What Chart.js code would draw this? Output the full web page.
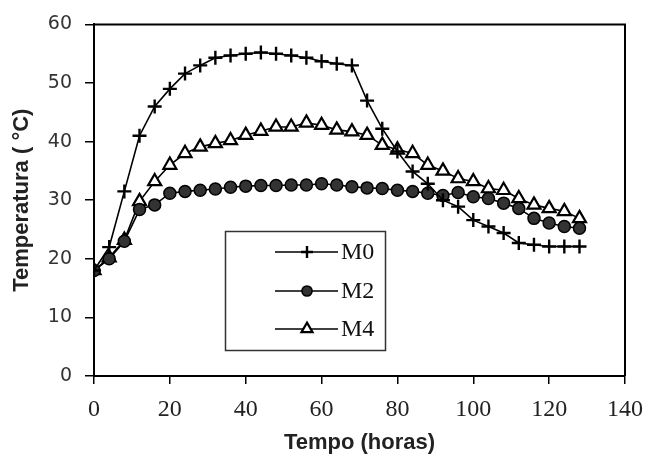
<!DOCTYPE html>
<html>
<head>
<meta charset="utf-8">
<script src="https://cdn.jsdelivr.net/npm/chart.js@4.4.1/dist/chart.umd.min.js"></script>
<style>
  body { margin: 0; background: #fff; }
  canvas { display: block; }
</style>
</head>
<body>
<canvas id="myChart" width="654" height="460"></canvas>
<script>
// sampling times (hours) and temperatures of the three mixtures
const hours = [0, 4, 8, 12, 16, 20, 24, 28, 32, 36, 40, 44, 48, 52, 56, 60, 64,
  68, 72, 76, 80, 84, 88, 92, 96, 100, 104, 108, 112, 116, 120, 124, 128];

const m0 = [18, 22, 31.5, 41, 46, 49, 51.6, 53, 54.3, 54.7, 55, 55.2, 55, 54.7, 54.3, 53.7, 53.3,
  53, 47, 42.2, 38.3, 34.9, 32.8, 30, 28.9, 26.6, 25.5, 24.4, 22.7, 22.4, 22.1, 22.1, 22.1];

const m2 = [18, 20, 23, 28.4, 29.2, 31.2, 31.5, 31.7, 31.9, 32.2, 32.4, 32.5, 32.5, 32.6, 32.6, 32.8, 32.6,
  32.3, 32.1, 32, 31.7, 31.5, 31.2, 30.8, 31.3, 30.6, 30.3, 29.5, 28.6, 26.9, 26.1, 25.5, 25.2];

const m4 = [18, 20.2, 23.2, 29.8, 33.2, 36, 38, 39.1, 39.7, 40.2, 41.1, 41.8, 42.5, 42.5, 43.2, 42.8, 42,
  41.7, 41.1, 39.4, 38.6, 38, 36, 35, 33.7, 33.2, 32, 31.7, 30.3, 29.2, 28.6, 28.1, 26.9];

const seriesNames = ["M0", "M2", "M4"];
const xTicks = [0, 20, 40, 60, 80, 100, 120, 140];
const yTicks = [0, 10, 20, 30, 40, 50, 60];

function toPoints(values) {
  return hours.map((h, i) => ({ x: h, y: values[i] }));
}

// top and right border of the plot box
const frameBox = {
  id: "frameBox",
  afterDraw(chart) {
    const { ctx, chartArea } = chart;
    ctx.save();
    ctx.strokeStyle = "#000";
    ctx.lineWidth = 2;
    ctx.beginPath();
    ctx.moveTo(chartArea.left, chartArea.top);
    ctx.lineTo(chartArea.right, chartArea.top);
    ctx.lineTo(chartArea.right, chartArea.bottom);
    ctx.stroke();
    ctx.restore();
  }
};

// boxed legend inside the plot
const boxLegend = {
  id: "boxLegend",
  afterDraw(chart) {
    const ctx = chart.ctx;
    ctx.save();
    ctx.strokeStyle = "#333";
    ctx.lineWidth = 1.5;
    ctx.strokeRect(225.5, 231.5, 160, 119);
    const rows = [252, 291, 329];
    chart.data.datasets.forEach((ds, i) => {
      const y = rows[i];
      ctx.strokeStyle = "#000";
      ctx.lineWidth = 1.5;
      ctx.beginPath();
      ctx.moveTo(275, y);
      ctx.lineTo(338, y);
      ctx.stroke();
      ctx.fillStyle = ds.pointBackgroundColor;
      ctx.strokeStyle = "#000";
      ctx.lineWidth = ds.pointBorderWidth;
      Chart.helpers.drawPoint(ctx, {
        pointStyle: ds.pointStyle,
        radius: ds.pointRadius * 0.85,
        rotation: 0,
        borderWidth: ds.pointBorderWidth
      }, 307, y);
      ctx.fillStyle = "#111";
      ctx.font = "24px 'Liberation Serif', 'Times New Roman', serif";
      ctx.textBaseline = "middle";
      ctx.textAlign = "left";
      ctx.fillText(ds.label, 341, y + 1);
    });
    ctx.restore();
  }
};

const ctx = document.getElementById("myChart").getContext("2d");
const chart = new Chart(ctx, {
  type: "line",
  data: {
    datasets: [
      {
        label: seriesNames[0],
        data: toPoints(m0),
        borderColor: "#000",
        borderWidth: 1.6,
        pointStyle: "cross",
        pointRadius: 7,
        pointBorderWidth: 2.4,
        pointBorderColor: "#000",
        pointBackgroundColor: "#000"
      },
      {
        label: seriesNames[1],
        data: toPoints(m2),
        borderColor: "#000",
        borderWidth: 1.6,
        pointStyle: "circle",
        pointRadius: 6,
        pointBorderWidth: 1.5,
        pointBorderColor: "#000",
        pointBackgroundColor: "#333"
      },
      {
        label: seriesNames[2],
        data: toPoints(m4),
        borderColor: "#000",
        borderWidth: 1.6,
        pointStyle: "triangle",
        pointRadius: 7.5,
        pointBorderWidth: 2.2,
        pointBorderColor: "#000",
        pointBackgroundColor: "#fff"
      }
    ]
  },
  options: {
    responsive: false,
    animation: false,
    layout: { padding: { top: 22, right: 23, left: 0, bottom: 0 } },
    plugins: {
      legend: { display: false },
      tooltip: { enabled: false }
    },
    scales: {
      x: {
        type: "linear",
        min: 0,
        max: 140,
        afterFit: scale => { scale.height = 84; },
        afterBuildTicks: scale => { scale.ticks = xTicks.map(v => ({ value: v })); },
        ticks: {
          color: "#222",
          padding: 11,
          font: { family: "'Liberation Serif', 'Times New Roman', serif", size: 24 }
        },
        grid: { drawOnChartArea: false, drawTicks: true, tickLength: 8, color: "#000", lineWidth: 1.5 },
        border: { display: true, color: "#000", width: 2 },
        title: {
          display: true,
          text: "Tempo (horas)",
          color: "#222",
          padding: { bottom: 4 },
          font: { family: "'Liberation Sans', Arial, sans-serif", size: 22, weight: "bold" }
        }
      },
      y: {
        min: 0,
        max: 60,
        afterFit: scale => { scale.width = 94; },
        afterBuildTicks: scale => { scale.ticks = yTicks.map(v => ({ value: v })); },
        ticks: {
          color: "#333",
          padding: 13,
          font: { family: "'DejaVu Sans', Verdana, sans-serif", size: 19 }
        },
        grid: { drawOnChartArea: false, drawTicks: true, tickLength: 9, color: "#000", lineWidth: 1.5 },
        border: { display: true, color: "#000", width: 2 },
        title: {
          display: true,
          text: "Temperatura ( °C)",
          color: "#222",
          padding: { top: 9 },
          font: { family: "'Liberation Sans', Arial, sans-serif", size: 22, weight: "bold" }
        }
      }
    }
  },
  plugins: [frameBox, boxLegend]
});
</script>
</body>
</html>
